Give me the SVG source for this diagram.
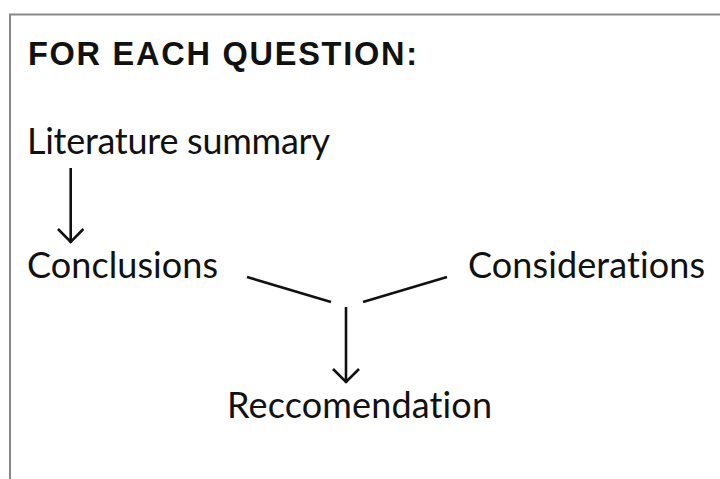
<svg xmlns="http://www.w3.org/2000/svg" width="720" height="479" viewBox="0 0 720 479">
<style>
text{font-family:Lato,"Liberation Sans",sans-serif;fill:#111;font-variant-ligatures:none;font-feature-settings:"liga" 0,"clig" 0,"dlig" 0}
.t{font-family:"Liberation Sans",Arial,sans-serif;font-size:32.5px;font-weight:700}
.n{font-size:36px}
.c{fill:none;stroke:#111;stroke-width:2.6;stroke-linecap:butt}
.frame{fill:none;stroke:#888;stroke-width:2}
</style>
<rect x="0" y="0" width="720" height="479" fill="#fff"/>
<path class="frame" d="M10,479 V14.5 H720"/>
<g id="title"><text class="t" x="28" y="65" textLength="389" lengthAdjust="spacing">FOR EACH QUESTION:</text></g>
<g id="literature"><text class="n" x="27" y="154" textLength="303" lengthAdjust="spacing">Literature summary</text></g>
<g id="conclusions"><text class="n" x="27" y="278" textLength="191" lengthAdjust="spacing">Conclusions</text></g>
<g id="considerations"><text class="n" x="468" y="278" textLength="237" lengthAdjust="spacing">Considerations</text></g>
<g id="recommendation"><text class="n" x="227" y="418" textLength="265" lengthAdjust="spacing">Reccomendation</text></g>
<g id="connectors">
<path class="c" d="M70.7,168 V243 M58,229 L70.7,242 L83.4,229"/>
<path class="c" d="M247,277 L331,302"/>
<path class="c" d="M363,302 L447,277"/>
<path class="c" d="M346,307 V383 M333,369 L346,382 L359,369"/>
</g>
</svg>
